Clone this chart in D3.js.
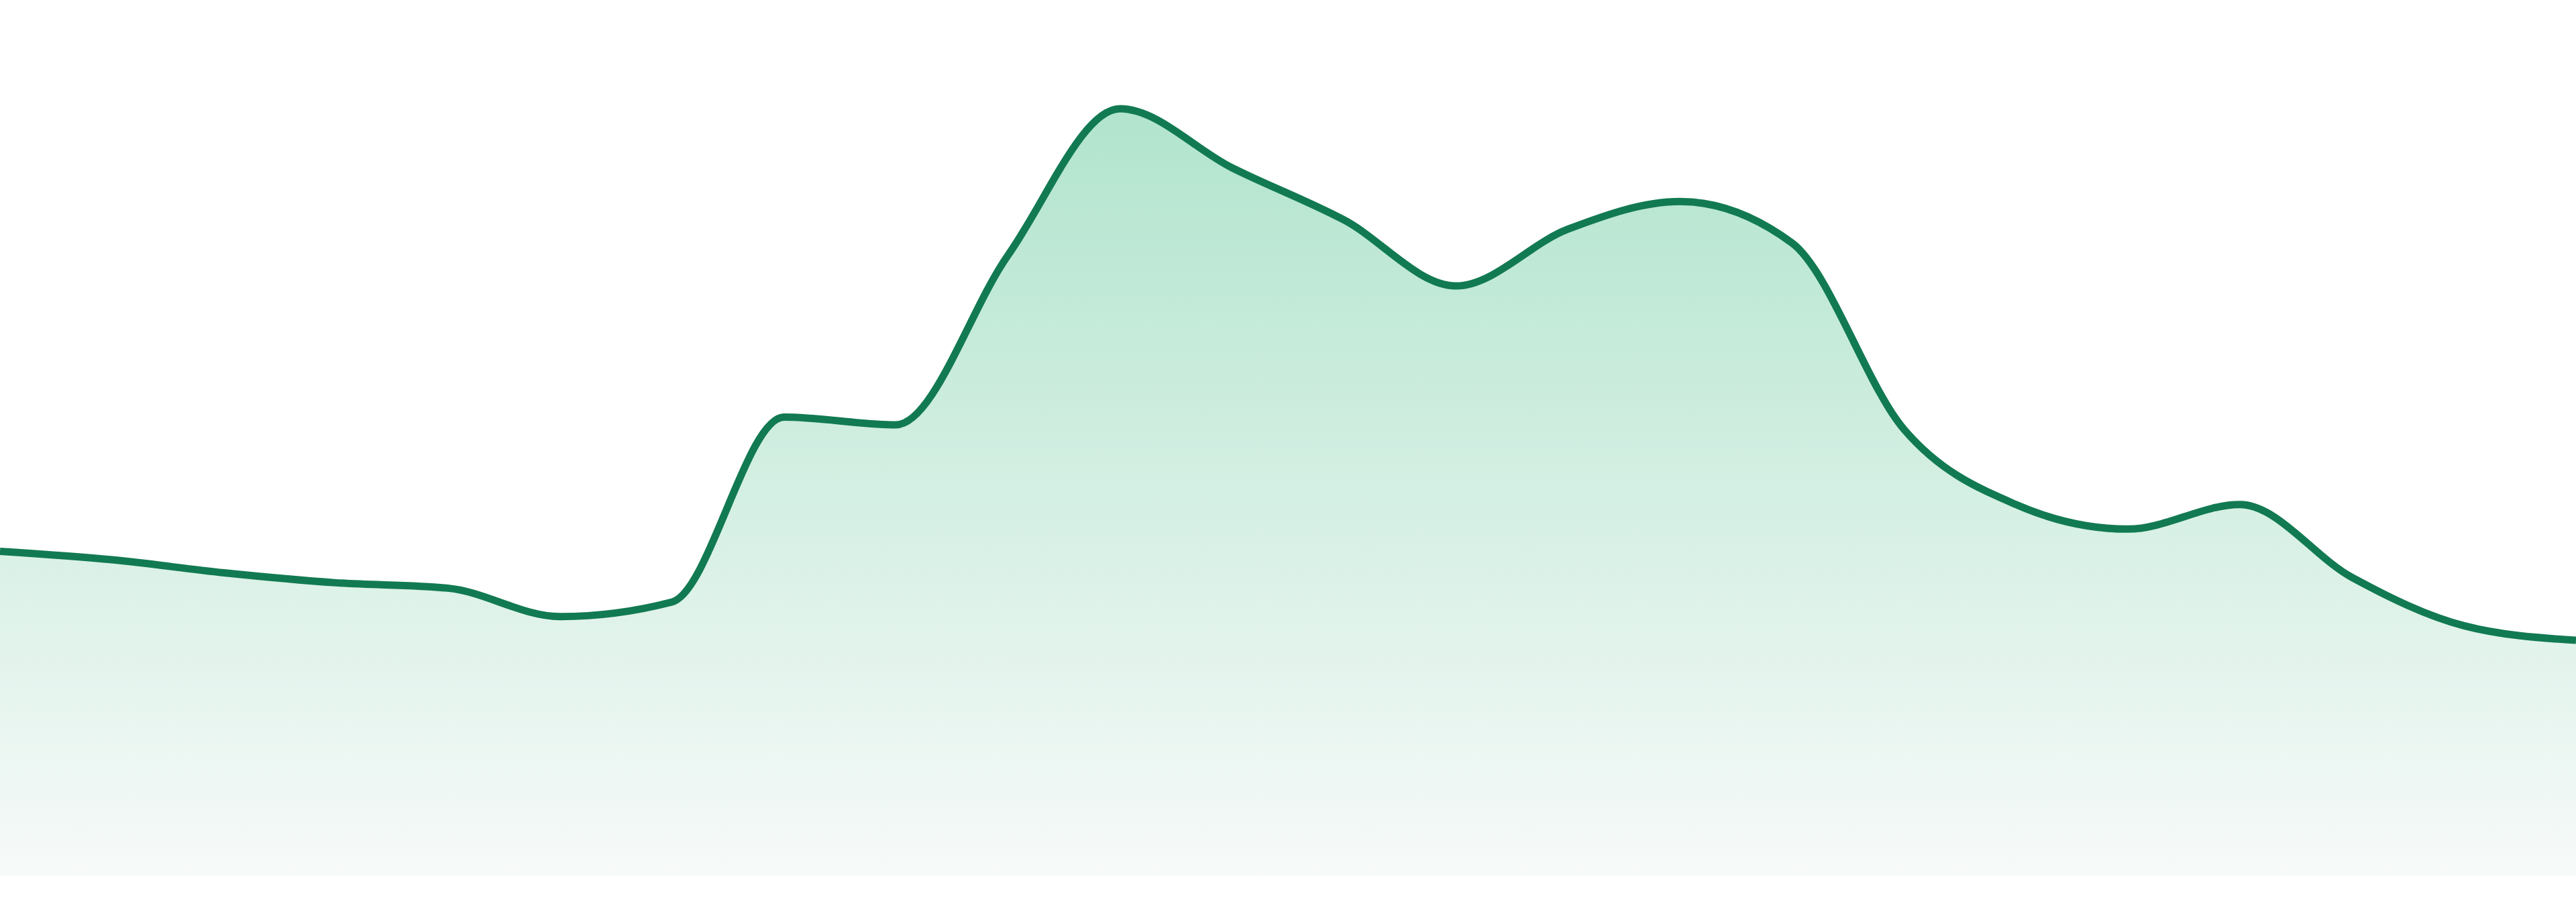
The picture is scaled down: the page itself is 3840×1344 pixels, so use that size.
<!DOCTYPE html>
<html>
<head>
<meta charset="utf-8">
<script src="https://cdn.jsdelivr.net/npm/d3@7"></script>
<style>
  html, body { margin: 0; padding: 0; background: #fff; }
  svg { display: block; }
</style>
</head>
<body>
<div id="chart"></div>
<script>
// Series, one value per step
var steps = d3.range(24);
var values = [42.3, 41.2, 39.5, 38.2, 37.5, 33.8, 35.7, 59.8, 58.8, 80.9, 100, 92.3,
              85.5, 76.9, 84.3, 87.9, 82.5, 58.2, 48.4, 45.2, 48.4, 38.9, 32.6, 30.7];

var width = 3840;
var height = 1344;
var bottom = 1305;

var data = steps.map(function(d, i){ return { x: d, y: values[i] }; });

var x = d3.scaleLinear()
	.domain([0, steps.length - 1])
	.range([0, width]);

var y = d3.scaleLinear()
	.domain([0, 100])
	.range([bottom, 162]);

var svg = d3.select("#chart")
	.append("svg")
	.attr("width", width)
	.attr("height", height);

// vertical fade under the line
var grad = svg.append("defs")
	.append("linearGradient")
	.attr("id", "fillGrad")
	.attr("gradientUnits", "userSpaceOnUse")
	.attr("x1", 0).attr("x2", 0)
	.attr("y1", y(100)).attr("y2", bottom);

grad.append("stop").attr("offset", "0%").attr("stop-color", "#b1e4cd");
grad.append("stop").attr("offset", "100%").attr("stop-color", "#f7faf9");

var area = d3.area()
	.x(d => x(d.x))
	.y0(bottom)
	.y1(d => y(d.y))
	.curve(d3.curveMonotoneX);

var line = d3.line()
	.x(d => x(d.x))
	.y(d => y(d.y))
	.curve(d3.curveMonotoneX);

svg.append("path")
	.datum(data)
	.attr("d", area)
	.style("fill", "url(#fillGrad)");

svg.append("path")
	.datum(data)
	.attr("d", line)
	.style("fill", "none")
	.style("stroke", "#127a52")
	.style("stroke-width", 11)
	.style("stroke-linejoin", "round");
</script>
</body>
</html>
